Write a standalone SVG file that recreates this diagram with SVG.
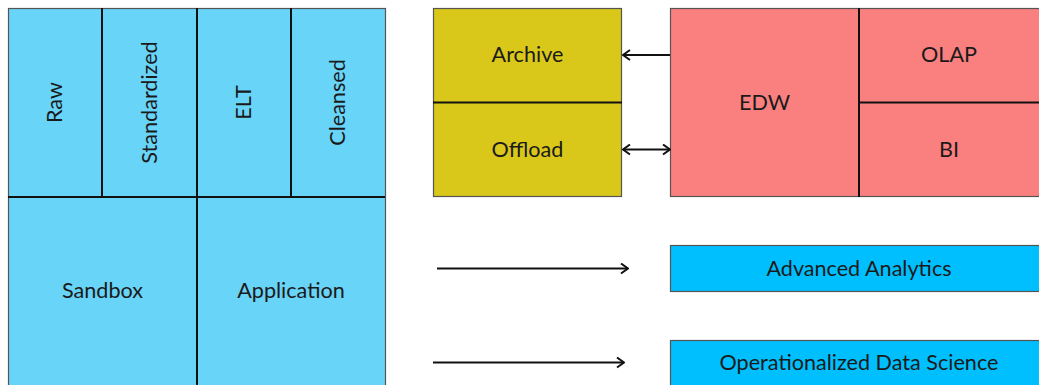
<svg xmlns="http://www.w3.org/2000/svg" width="1039" height="385" viewBox="0 0 1039 385">
  <defs>
    <style>
      .lbl { font-family: Lato, "Open Sans", "Liberation Sans", sans-serif; font-size: 21.6px; fill: #1a1a1a; text-anchor: middle; dominant-baseline: central; }
      .frame { stroke: #555555; stroke-width: 1.2; }
      .div { stroke: #111111; stroke-width: 2; fill: none; }
      .lake { fill: #68D4F8; }
      .arch { fill: #D9C81A; }
      .edw { fill: #FA8080; }
      .out { fill: #00BFFF; }
      .conn { stroke: #111111; stroke-width: 2; fill: none; }
    </style>
    <marker id="head" viewBox="0 0 10 12" refX="9" refY="6" markerWidth="10" markerHeight="12" markerUnits="userSpaceOnUse" orient="auto-start-reverse">
      <path d="M2,1 L9,6 L2,11" fill="none" stroke="#111111" stroke-width="2"/>
    </marker>
  </defs>

  <!-- Data lake zones -->
  <g id="lake">
    <rect class="lake frame" x="8.5" y="8.5" width="377" height="390"/>
    <line class="div" x1="8" y1="197" x2="385" y2="197"/>
    <line class="div" x1="197" y1="8" x2="197" y2="390"/>
    <line class="div" x1="102" y1="8" x2="102" y2="197"/>
    <line class="div" x1="291" y1="8" x2="291" y2="197"/>
  </g>
  <g id="raw"><text class="lbl" transform="translate(54,102.5) rotate(-90)">Raw</text></g>
  <g id="standardized"><text class="lbl" transform="translate(148.5,102.5) rotate(-90)">Standardized</text></g>
  <g id="elt"><text class="lbl" transform="translate(243,102.5) rotate(-90)">ELT</text></g>
  <g id="cleansed"><text class="lbl" transform="translate(337,102.5) rotate(-90)">Cleansed</text></g>
  <g id="sandbox"><text class="lbl" x="102.5" y="290">Sandbox</text></g>
  <g id="application"><text class="lbl" x="291" y="290">Application</text></g>

  <!-- Archive / Offload -->
  <g id="archive-block">
    <rect class="arch frame" x="433.5" y="8.5" width="188" height="188"/>
    <line class="div" x1="433" y1="102.5" x2="622" y2="102.5"/>
  </g>
  <g id="archive"><text class="lbl" x="527.5" y="54">Archive</text></g>
  <g id="offload"><text class="lbl" x="527.5" y="149">Offload</text></g>

  <!-- Warehouse -->
  <g id="edw-block">
    <rect class="edw frame" x="670.5" y="8.5" width="380" height="188"/>
    <line class="div" x1="859" y1="8" x2="859" y2="197"/>
    <line class="div" x1="859" y1="102.5" x2="1039" y2="102.5"/>
  </g>
  <g id="edw"><text class="lbl" x="764.5" y="101.5">EDW</text></g>
  <g id="olap"><text class="lbl" x="949" y="54">OLAP</text></g>
  <g id="bi"><text class="lbl" x="949" y="149">BI</text></g>

  <!-- Consumers -->
  <g id="advanced-analytics">
    <rect class="out frame" x="670.5" y="245.5" width="380" height="46"/>
    <text class="lbl" x="859" y="267.5">Advanced Analytics</text>
  </g>
  <g id="operationalized-data-science">
    <rect class="out frame" x="670.5" y="340.5" width="380" height="60"/>
    <text class="lbl" x="859" y="361.5">Operationalized Data Science</text>
  </g>

  <!-- Connectors -->
  <g id="connectors">
    <line class="conn" x1="670" y1="55" x2="623" y2="55" marker-end="url(#head)"/>
    <line class="conn" x1="623" y1="149.5" x2="670" y2="149.5" marker-start="url(#head)" marker-end="url(#head)"/>
    <line class="conn" x1="437" y1="268.5" x2="628" y2="268.5" marker-end="url(#head)"/>
    <line class="conn" x1="433" y1="362.5" x2="624" y2="362.5" marker-end="url(#head)"/>
  </g>
</svg>
